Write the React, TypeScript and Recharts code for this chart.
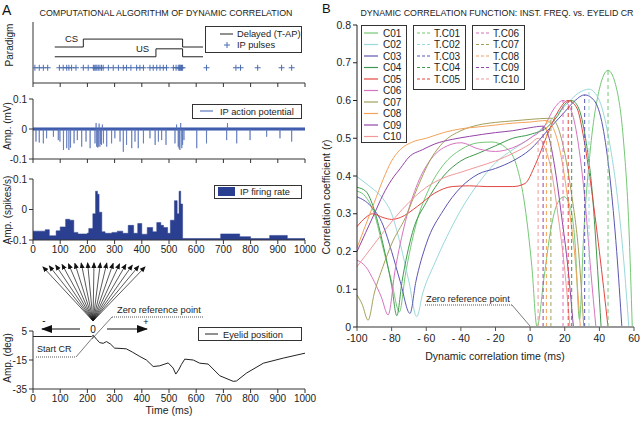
import React from 'react';
import { ComposedChart, LineChart, Line, Area, Scatter, XAxis, YAxis } from 'recharts';

const FONT = '"Liberation Sans", Arial, Helvetica, sans-serif';

// ---------- Panel A data ----------
const timeTicks = [0, 100, 200, 300, 400, 500, 600, 700, 800, 900, 1000];

// Paradigm traces (arbitrary level units)
const csTrace: [number, number][] = [[80, 5.9], [185, 7.2], [550, 5.9], [625, 5.9]];
const usTrace: [number, number][] = [[80, 4.3], [452, 5.6], [550, 4.3], [625, 4.3]];
const pulseLevel = 2.5;
const pulseTimes = [7, 23, 38, 54, 97, 111, 124, 132, 142, 158, 185, 203, 222, 227, 231, 235, 240, 246, 252, 258, 277, 295, 314, 332, 344, 360, 381, 393, 406, 430, 442, 455, 467, 479, 491, 516, 526, 534, 538, 540, 543, 546, 550, 638, 746, 763, 826, 914, 951];

// IP action potential: spike times (ms) and peak amplitudes (mV)
const apSpikes: [number, number][] = [
  [11, -0.042], [23, -0.045], [38, -0.048], [50, -0.031], [75, -0.026], [93, -0.037], [99, -0.042],
  [112, -0.07], [124, -0.064], [132, -0.07], [138, -0.062], [151, -0.048], [163, -0.037], [179, -0.059],
  [195, -0.042], [210, -0.064], [228, -0.048], [232, 0.02], [234, -0.059], [238, -0.062], [240, -0.059],
  [243, 0.018], [246, -0.059], [249, -0.05], [252, -0.053], [255, 0.015], [259, -0.048], [271, -0.059],
  [289, -0.048], [301, -0.031], [320, -0.042], [332, -0.076], [344, -0.053], [363, -0.064], [375, -0.042],
  [387, -0.064], [406, -0.048], [430, -0.031], [449, -0.053], [461, -0.042], [473, -0.037], [489, -0.053],
  [522, -0.048], [528, 0.015], [534, -0.059], [537, -0.065], [540, -0.07], [543, 0.02], [547, -0.064],
  [550, -0.053], [555, -0.037], [602, -0.064], [638, -0.048], [712, -0.037], [715, 0.02], [749, -0.048],
  [798, -0.037], [859, -0.026], [908, -0.031], [951, -0.042],
];

// IP firing rate: step starts (ms) and level
const rateSteps: [number, number][] = [
  [0, -0.071], [45, -0.066], [60, -0.086], [85, -0.07], [100, -0.057], [120, -0.032], [135, -0.035],
  [150, -0.075], [165, -0.08], [200, -0.077], [205, -0.062], [220, -0.014], [230, 0.06], [237, 0.05],
  [243, -0.009], [253, -0.073], [265, -0.078], [290, -0.075], [310, -0.071], [330, -0.078], [350, -0.052],
  [370, -0.078], [385, -0.046], [400, -0.081], [420, -0.059], [440, -0.073], [455, -0.043], [470, -0.052],
  [480, -0.059], [495, -0.078], [505, -0.035], [520, 0.029], [530, -0.014], [537, 0.06], [543, 0.018],
  [550, -0.095], [690, -0.08], [760, -0.089], [800, -0.095], [870, -0.085], [935, -0.095], [1000, -0.095],
];

// Eyelid position (deg)
const eyelid: [number, number][] = [
  [0, 1.2], [215, 1.2], [222, 2], [235, -1], [245, -3], [258, -3.5], [270, -2.3], [285, -4], [300, -6.8],
  [320, -7], [343, -7.3], [365, -9.5], [393, -12.6], [417, -15], [442, -19.5], [466, -19], [497, -17],
  [515, -20.5], [525, -24.7], [535, -22], [546, -18], [558, -14.4], [589, -15], [613, -17.2], [644, -17.8],
  [687, -25.9], [736, -29.7], [748, -29.5], [785, -24], [847, -17.2], [920, -13.7], [1000, -10.3],
];

// ---------- Panel B data ----------
const bXTicks = [-100, -80, -60, -40, -20, 0, 20, 40, 60];
const bYTicks = [0, 0.1, 0.2, 0.3, 0.4, 0.5, 0.6, 0.7, 0.8];
const seriesNames = ['C01', 'C02', 'C03', 'C04', 'C05', 'C06', 'C07', 'C08', 'C09', 'C10'];
const seriesColors = ['#74c874', '#9ad8dc', '#5a56b2', '#3f9a4f', '#e2453f', '#d673be', '#a3a05a', '#f4a259', '#9344a6', '#f29898'];

const c01: [number, number][] = [[-100, 0.36], [-95, 0.345], [-90, 0.3], [-85, 0.21], [-80, 0.12], [-75.5, 0.04], [-72, 0.14], [-66, 0.27], [-58, 0.37], [-50, 0.43], [-40, 0.47], [-30, 0.488], [-22, 0.49], [-14, 0.475], [-8, 0.43], [-3, 0.32], [1, 0.16], [4, 0.0], [8, 0.13], [12, 0.26], [16, 0.33], [19.6, 0.345], [23, 0.32], [26, 0.22], [28.5, 0.02], [31, 0.25], [35, 0.48], [40, 0.63], [45, 0.68], [50, 0.63], [54, 0.49], [57, 0.27], [59, 0.0]];
const c02: [number, number][] = [[-100, 0.398], [-92, 0.37], [-85, 0.34], [-80, 0.3], [-75, 0.22], [-70, 0.12], [-65.5, 0.027], [-62, 0.09], [-55, 0.17], [-48, 0.24], [-40, 0.31], [-30, 0.38], [-20, 0.435], [-10, 0.47], [0, 0.5], [10, 0.54], [20, 0.585], [28, 0.62], [34, 0.63], [40, 0.6], [45, 0.51], [50, 0.36], [54, 0.18], [57, 0.0]];
const c03: [number, number][] = [[-100, 0.345], [-92, 0.32], [-85, 0.27], [-80, 0.2], [-75, 0.12], [-69.4, 0.036], [-66, 0.12], [-60, 0.22], [-50, 0.31], [-40, 0.37], [-30, 0.405], [-20, 0.42], [-10, 0.44], [0, 0.47], [10, 0.52], [20, 0.57], [26, 0.6], [31.5, 0.615], [37, 0.6], [42, 0.53], [46, 0.4], [50, 0.2], [53, 0.0]];
const c04: [number, number][] = [[-100, 0.37], [-95, 0.36], [-90, 0.31], [-85, 0.22], [-80, 0.11], [-77, 0.03], [-74, 0.12], [-68, 0.25], [-60, 0.33], [-50, 0.4], [-40, 0.44], [-30, 0.46], [-20, 0.48], [-10, 0.5], [0, 0.51], [10, 0.53], [16, 0.56], [20, 0.59], [24, 0.6], [28, 0.58], [32, 0.5], [36, 0.35], [39, 0.15], [41, 0.0]];
const c05: [number, number][] = [[-100, 0.266], [-95, 0.29], [-91, 0.3], [-85, 0.29], [-80, 0.285], [-75, 0.29], [-65, 0.32], [-55, 0.355], [-45, 0.372], [-35, 0.374], [-25, 0.372], [-10, 0.372], [-3, 0.38], [3, 0.43], [10, 0.51], [16, 0.57], [22, 0.6], [27, 0.58], [31, 0.5], [35, 0.38], [40, 0.2], [45, 0.0]];
const c06: [number, number][] = [[-100, 0.177], [-95, 0.16], [-90, 0.12], [-86, 0.08], [-82, 0.032], [-78, 0.15], [-72, 0.28], [-65, 0.38], [-58, 0.44], [-50, 0.475], [-40, 0.488], [-30, 0.472], [-20, 0.465], [-10, 0.475], [0, 0.5], [8, 0.53], [14, 0.58], [19, 0.6], [24, 0.57], [28, 0.48], [32, 0.32], [35, 0.15], [38, 0.0]];
const c07: [number, number][] = [[-100, 0.085], [-97, 0.06], [-93.6, 0.018], [-90, 0.09], [-85, 0.16], [-80, 0.22], [-72, 0.29], [-65, 0.37], [-58, 0.44], [-50, 0.49], [-40, 0.52], [-30, 0.535], [-20, 0.542], [-10, 0.546], [0, 0.55], [12, 0.553], [16, 0.53], [20, 0.46], [24, 0.35], [28, 0.2], [31, 0.0]];
const c08: [number, number][] = [[-100, 0.21], [-95, 0.27], [-90, 0.33], [-85, 0.39], [-80, 0.44], [-75, 0.47], [-68, 0.49], [-60, 0.5], [-50, 0.515], [-40, 0.525], [-30, 0.53], [-20, 0.535], [-10, 0.54], [0, 0.543], [9.4, 0.547], [14, 0.52], [18, 0.45], [22, 0.33], [26, 0.18], [29, 0.0]];
const c09: [number, number][] = [[-100, 0.2], [-95, 0.25], [-90, 0.3], [-85, 0.35], [-80, 0.39], [-75, 0.42], [-70, 0.45], [-62, 0.47], [-55, 0.485], [-45, 0.497], [-35, 0.505], [-20, 0.515], [-10, 0.52], [0, 0.528], [7.5, 0.532], [11, 0.5], [14, 0.43], [18, 0.3], [22, 0.15], [25, 0.0]];
const c10: [number, number][] = [[-100, 0.16], [-95, 0.19], [-90, 0.22], [-85, 0.25], [-78, 0.29], [-70, 0.33], [-60, 0.37], [-50, 0.395], [-40, 0.41], [-30, 0.425], [-20, 0.44], [-10, 0.46], [0, 0.485], [4.6, 0.5], [8, 0.48], [12, 0.42], [16, 0.3], [20, 0.15], [23, 0.0]];
const curves = [c01, c02, c03, c04, c05, c06, c07, c08, c09, c10];
// Time of maximum correlation (T.Cxx) and its value
const peakTimes = [45, 34, 31.5, 24, 22, 19, 12, 9.4, 7.5, 4.6];
const peakValues = [0.68, 0.63, 0.615, 0.6, 0.6, 0.6, 0.553, 0.547, 0.532, 0.5];

// ---------- helpers ----------
const toPts = (arr: [number, number][]) => arr.map(([t, v]) => ({ t, v }));
const apTrace = (() => {
  const out: { t: number; v: number }[] = [{ t: 0, v: 0 }];
  apSpikes.forEach(([t, a]) => {
    out.push({ t: t - 0.6, v: 0 }, { t, v: a }, { t: t + 0.6, v: 0 });
  });
  out.push({ t: 1000, v: 0 });
  return out;
})();
const baseline = [{ t: 0, v: 0 }, { t: 1000, v: 0 }];

const AX = '#333';
const tickA = { fontSize: 10, fill: '#222', fontFamily: FONT };
const tickB = { fontSize: 10.5, fill: '#222', fontFamily: FONT };
const fmtA = (v: number) => (v === 0 ? '0' : String(v));
const fmtBX = (v: number) => (v < -99 ? '-100' : v < 0 ? '- ' + String(-v) : String(v));
const fmtBY = (v: number) => (v === 0 ? '0' : v.toFixed(1));

const PlusShape = (props: any) => {
  const { cx, cy } = props;
  return <path d={`M${cx - 3},${cy}h6M${cx},${cy - 3}v6`} stroke="#4a6cb0" strokeWidth={1} />;
};

const abs = (left: number, top: number): React.CSSProperties => ({ position: 'absolute', left, top });

const boxStyle = (left: number, top: number, w: number, h: number): React.CSSProperties => ({
  position: 'absolute', left, top, width: w, height: h, border: '1px solid #333', boxSizing: 'border-box', background: '#fff',
});

export default function App() {
  const fan = Array.from({ length: 17 }, (_, i) => {
    const x = 43 + (i * 102) / 16;
    const d = (x - 94) / 51;
    return { x, y: 263 + 4 * d * d };
  });
  return (
    <div style={{ position: 'absolute', left: 0, top: 0, width: 640, height: 425, background: '#fff', overflow: 'hidden', fontFamily: FONT }}>
      {/* Paradigm */}
      <div style={abs(0, 0)}>
        <ComposedChart width={320} height={95} margin={{ top: 22, right: 15, bottom: 2, left: 8 }}>
          <XAxis type="number" dataKey="t" domain={[0, 1000]} ticks={timeTicks} tickFormatter={() => ''} height={10} tickSize={4} stroke={AX} allowDataOverflow />
          <YAxis type="number" dataKey="v" domain={[0, 10]} width={25} tick={false} stroke={AX} />
          <Line data={toPts(csTrace)} dataKey="v" type="stepAfter" stroke="#222" strokeWidth={1} dot={false} isAnimationActive={false} />
          <Line data={toPts(usTrace)} dataKey="v" type="stepAfter" stroke="#222" strokeWidth={1} dot={false} isAnimationActive={false} />
          <Scatter data={pulseTimes.map((t) => ({ t, v: pulseLevel }))} dataKey="v" shape={PlusShape} isAnimationActive={false} />
        </ComposedChart>
      </div>
      {/* Action potential */}
      <div style={abs(0, 88)}>
        <ComposedChart width={320} height={80} margin={{ top: 11, right: 15, bottom: 1, left: 8 }}>
          <XAxis type="number" dataKey="t" domain={[0, 1000]} ticks={timeTicks} tickFormatter={() => ''} height={8} tickSize={4} stroke={AX} />
          <YAxis type="number" dataKey="v" domain={[-0.1, 0.1]} ticks={[-0.1, 0, 0.1]} tickFormatter={fmtA} width={25} tick={tickA} tickSize={4} stroke={AX} />
          <Line data={baseline} dataKey="v" type="linear" stroke="#3654a8" strokeWidth={3} dot={false} isAnimationActive={false} />
          <Line data={apTrace} dataKey="v" type="linear" stroke="#5570b8" strokeWidth={0.7} dot={false} isAnimationActive={false} />
        </ComposedChart>
      </div>
      {/* Firing rate */}
      <div style={abs(0, 170)}>
        <ComposedChart width={320} height={90} margin={{ top: 9, right: 15, bottom: 2, left: 8 }}>
          <XAxis type="number" dataKey="t" domain={[0, 1000]} ticks={timeTicks} height={18} tickSize={4} tick={tickA} stroke={AX} />
          <YAxis type="number" dataKey="v" domain={[-0.1, 0.1]} ticks={[-0.1, 0, 0.1]} tickFormatter={fmtA} width={25} tick={tickA} tickSize={4} stroke={AX} />
          <Area data={toPts(rateSteps)} dataKey="v" type="stepAfter" baseValue={-0.1} stroke="#2a3f8f" strokeWidth={0.5} fill="#2a3f8f" fillOpacity={1} isAnimationActive={false} />
        </ComposedChart>
      </div>
      {/* Eyelid */}
      <div style={abs(0, 320)}>
        <ComposedChart width={320} height={100} margin={{ top: 11, right: 15, bottom: 13, left: 8 }}>
          <XAxis type="number" dataKey="t" domain={[0, 1000]} ticks={timeTicks} height={18} tickSize={4} tick={tickA} stroke={AX} />
          <YAxis type="number" dataKey="v" domain={[-35, 5]} ticks={[-35, -15, 5]} width={25} tick={tickA} tickSize={4} stroke={AX} />
          <Line data={toPts(eyelid)} dataKey="v" type="linear" stroke="#222" strokeWidth={1} dot={false} isAnimationActive={false} />
        </ComposedChart>
      </div>
      {/* Panel B */}
      <div style={abs(320, 0)}>
        <LineChart width={320} height={370} margin={{ top: 25, right: 6, bottom: 23, left: 7 }}>
          <XAxis type="number" dataKey="t" domain={[-100, 60]} ticks={bXTicks} tickFormatter={fmtBX} height={20} tickSize={4} tickMargin={4} tick={tickB}
            axisLine={{ stroke: '#999', strokeWidth: 2 }} tickLine={{ stroke: '#555' }} />
          <YAxis type="number" dataKey="v" domain={[0, 0.8]} ticks={bYTicks} tickFormatter={fmtBY} width={30} tickSize={4} tick={tickB} stroke="#222" />
          {curves.map((c, i) => (
            <Line key={seriesNames[i]} data={toPts(c)} dataKey="v" type="monotone" stroke={seriesColors[i]} strokeWidth={1} dot={false} isAnimationActive={false} />
          ))}
          {peakTimes.map((t, i) => (
            <Line key={'T' + seriesNames[i]} data={[{ t, v: 0 }, { t, v: peakValues[i] }]} dataKey="v" type="linear" stroke={seriesColors[i]} strokeWidth={1} strokeDasharray="4 3" dot={false} isAnimationActive={false} />
          ))}
        </LineChart>
      </div>

      {/* Legends, panel A */}
      <div style={boxStyle(205, 26, 97, 27)} />
      <div style={boxStyle(192, 104, 110, 15)} />
      <div style={boxStyle(214, 185, 88, 14)} />
      <div style={boxStyle(198, 327, 104, 14)} />
      {/* Legends, panel B */}
      <div style={boxStyle(361, 25, 46, 118)} />
      <div style={boxStyle(413, 25, 53, 65)} />
      <div style={boxStyle(472, 25, 53, 65)} />

      <svg width={640} height={425} style={{ position: 'absolute', left: 0, top: 0, pointerEvents: 'none' }} fontFamily={FONT}>
        <defs>
          <marker id="ah" markerWidth="6" markerHeight="6" refX="5" refY="3" orient="auto" markerUnits="userSpaceOnUse">
            <path d="M0,0.5 L6,3 L0,5.5 z" fill="#111" />
          </marker>
          <marker id="ahBig" markerWidth="11" markerHeight="8" refX="10" refY="4" orient="auto" markerUnits="userSpaceOnUse">
            <path d="M0,0 L11,4 L0,8 z" fill="#111" />
          </marker>
        </defs>
        {/* Panel letters & titles */}
        <text x={2} y={15} fontSize={14} fill="#111">A</text>
        <text x={322} y={13} fontSize={13} fill="#111">B</text>
        <text x={166} y={16} fontSize={8.7} textAnchor="middle" fill="#222" textLength={253} lengthAdjust="spacingAndGlyphs">COMPUTATIONAL ALGORITHM OF DYNAMIC CORRELATION</text>
        <text x={497} y={16} fontSize={8.7} textAnchor="middle" fill="#222" textLength={273} lengthAdjust="spacingAndGlyphs">DYNAMIC CORRELATION FUNCTION: INST. FREQ. vs. EYELID CR</text>

        {/* y labels A */}
        <text transform="translate(13,45) rotate(-90)" fontSize={10} textAnchor="middle" fill="#222">Paradigm</text>
        <text transform="translate(11,126) rotate(-90)" fontSize={10} textAnchor="middle" fill="#222">Amp. (mV)</text>
        <text transform="translate(11,210) rotate(-90)" fontSize={10} textAnchor="middle" fill="#222">Amp. (spikes/s)</text>
        <text transform="translate(11,358) rotate(-90)" fontSize={10} textAnchor="middle" fill="#222">Amp. (deg)</text>
        <text x={169} y={414} fontSize={10.5} textAnchor="middle" fill="#222">Time (ms)</text>

        {/* Paradigm labels */}
        <text x={65} y={42} fontSize={9.5} fill="#222">CS</text>
        <text x={136} y={52} fontSize={9.5} fill="#222">US</text>
        <line x1={220} y1={34} x2={233} y2={34} stroke="#222" strokeWidth={1} />
        <text x={237} y={37} fontSize={9.3} fill="#222">Delayed (T-AP)</text>
        <path d="M224,45h6M227,42v6" stroke="#4a6cb0" strokeWidth={1} />
        <text x={237} y={48} fontSize={9.3} fill="#222">IP pulses</text>

        <line x1={200} y1={111} x2={213} y2={111} stroke="#3a5cb0" strokeWidth={1} />
        <text x={220} y={114.5} fontSize={9.3} fill="#222">IP action potential</text>

        <rect x={218} y={187} width={17} height={9} fill="#2a3f8f" />
        <text x={240} y={195} fontSize={9.3} fill="#222">IP firing rate</text>

        <line x1={205} y1={334} x2={218} y2={334} stroke="#222" strokeWidth={1} />
        <text x={223} y={337.5} fontSize={9.3} fill="#222">Eyelid position</text>

        {/* Fan of arrows */}
        {fan.map((p, i) => (
          <line key={i} x1={93} y1={321} x2={p.x} y2={p.y} stroke="#111" strokeWidth={0.7} markerEnd="url(#ah)" />
        ))}
        <line x1={80} y1={329} x2={42} y2={329} stroke="#111" strokeWidth={1.2} markerEnd="url(#ahBig)" />
        <line x1={107} y1={329} x2={147} y2={329} stroke="#111" strokeWidth={1.2} markerEnd="url(#ahBig)" />
        <text x={44} y={324} fontSize={10} textAnchor="middle" fill="#111">-</text>
        <text x={146} y={325} fontSize={9} textAnchor="middle" fill="#111">+</text>
        <text x={93} y={333} fontSize={10} textAnchor="middle" fill="#111">0</text>

        {/* Start CR & zero reference (A) */}
        <text x={37} y={352} fontSize={9} fill="#222">Start CR</text>
        <line x1={36} y1={357} x2={76} y2={357} stroke="#555" strokeWidth={1} strokeDasharray="1 1" />
        <line x1={76} y1={357} x2={94} y2={336} stroke="#444" strokeWidth={0.7} />
        <text x={117} y={313} fontSize={9.3} fill="#222">Zero reference point</text>
        <line x1={112} y1={317} x2={203} y2={317} stroke="#555" strokeWidth={1} strokeDasharray="1 1" />
        <line x1={112} y1={317} x2={92} y2={339} stroke="#444" strokeWidth={0.7} />

        {/* Panel B labels */}
        <text transform="translate(330,197) rotate(-90)" fontSize={10.5} textAnchor="middle" fill="#222">
          Correlation coefficient (<tspan fontStyle="italic">r</tspan>)
        </text>
        <text x={495} y={360} fontSize={10.5} textAnchor="middle" fill="#222">Dynamic correlation time (ms)</text>
        <text x={426} y={302} fontSize={9.3} fill="#222">Zero reference point</text>
        <line x1={425} y1={305} x2={512} y2={305} stroke="#555" strokeWidth={1} strokeDasharray="1 1" />
        <line x1={512} y1={305} x2={530} y2={326} stroke="#444" strokeWidth={0.7} />

        {/* Panel B legend entries */}
        {seriesNames.map((n, i) => (
          <g key={n}>
            <line x1={364} y1={33 + i * 11.5} x2={378} y2={33 + i * 11.5} stroke={seriesColors[i]} strokeWidth={1.2} />
            <text x={383} y={36.5 + i * 11.5} fontSize={10} fill="#222">{n}</text>
          </g>
        ))}
        {seriesNames.map((n, i) => {
          const col = i < 5 ? 0 : 1;
          const row = i % 5;
          const x0 = col === 0 ? 417 : 476;
          return (
            <g key={'T' + n}>
              <line x1={x0} y1={33 + row * 11.5} x2={x0 + 14} y2={33 + row * 11.5} stroke={seriesColors[i]} strokeWidth={1.2} strokeDasharray="3 2" />
              <text x={x0 + 17} y={36.5 + row * 11.5} fontSize={10} fill="#222">{'T.' + n}</text>
            </g>
          );
        })}
      </svg>
    </div>
  );
}
